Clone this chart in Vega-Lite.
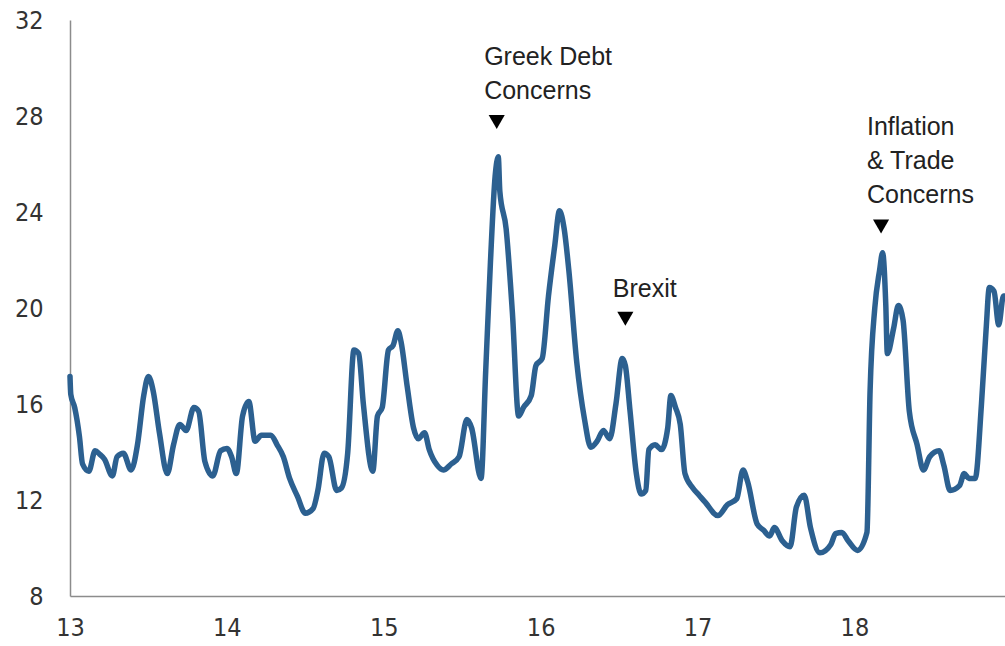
{
  "$schema": "https://vega.github.io/schema/vega-lite/v6.json",
  "width": 935,
  "height": 576,
  "autosize": "none",
  "padding": {"left": 70, "top": 20, "right": 0, "bottom": 50},
  "background": "white",
  "config": {"view": {"stroke": null}, "font": "Liberation Sans"},
  "datasets": {
    "series": [
      {"t": 13.00, "v": 17.15}, {"t": 13.005, "v": 16.4}, {"t": 13.03, "v": 15.85}, {"t": 13.06, "v": 14.65},
      {"t": 13.08, "v": 13.5}, {"t": 13.12, "v": 13.2}, {"t": 13.16, "v": 14.05}, {"t": 13.19, "v": 13.9},
      {"t": 13.22, "v": 13.7}, {"t": 13.27, "v": 13.0}, {"t": 13.30, "v": 13.8}, {"t": 13.34, "v": 13.95},
      {"t": 13.39, "v": 13.25}, {"t": 13.43, "v": 14.3}, {"t": 13.47, "v": 16.35}, {"t": 13.50, "v": 17.15},
      {"t": 13.53, "v": 16.55}, {"t": 13.57, "v": 14.8}, {"t": 13.62, "v": 13.1}, {"t": 13.66, "v": 14.3},
      {"t": 13.70, "v": 15.15}, {"t": 13.74, "v": 14.9}, {"t": 13.79, "v": 15.85}, {"t": 13.82, "v": 15.7},
      {"t": 13.86, "v": 13.6}, {"t": 13.91, "v": 13.0}, {"t": 13.96, "v": 14.05}, {"t": 14.00, "v": 14.15},
      {"t": 14.03, "v": 13.8}, {"t": 14.06, "v": 13.1}, {"t": 14.10, "v": 15.5}, {"t": 14.14, "v": 16.1},
      {"t": 14.18, "v": 14.45}, {"t": 14.22, "v": 14.7}, {"t": 14.28, "v": 14.7}, {"t": 14.32, "v": 14.3},
      {"t": 14.36, "v": 13.8}, {"t": 14.40, "v": 12.9}, {"t": 14.45, "v": 12.15}, {"t": 14.50, "v": 11.45},
      {"t": 14.55, "v": 11.65}, {"t": 14.58, "v": 12.4}, {"t": 14.62, "v": 13.95}, {"t": 14.65, "v": 13.8},
      {"t": 14.70, "v": 12.4}, {"t": 14.73, "v": 12.5}, {"t": 14.77, "v": 13.95}, {"t": 14.81, "v": 18.25},
      {"t": 14.84, "v": 18.1}, {"t": 14.87, "v": 16.0}, {"t": 14.93, "v": 13.2}, {"t": 14.96, "v": 15.5},
      {"t": 14.99, "v": 15.85}, {"t": 15.03, "v": 18.25}, {"t": 15.06, "v": 18.45}, {"t": 15.09, "v": 19.05},
      {"t": 15.11, "v": 18.6}, {"t": 15.15, "v": 16.7}, {"t": 15.19, "v": 15.0}, {"t": 15.22, "v": 14.55},
      {"t": 15.26, "v": 14.8}, {"t": 15.29, "v": 14.1}, {"t": 15.34, "v": 13.45}, {"t": 15.38, "v": 13.25},
      {"t": 15.43, "v": 13.5}, {"t": 15.48, "v": 13.8}, {"t": 15.53, "v": 15.35}, {"t": 15.56, "v": 15.0},
      {"t": 15.62, "v": 12.9}, {"t": 15.65, "v": 17.4}, {"t": 15.68, "v": 21.9}, {"t": 15.71, "v": 25.5},
      {"t": 15.73, "v": 26.3}, {"t": 15.74, "v": 24.85}, {"t": 15.78, "v": 23.3}, {"t": 15.82, "v": 19.8},
      {"t": 15.86, "v": 15.5}, {"t": 15.89, "v": 15.85}, {"t": 15.94, "v": 16.35}, {"t": 15.97, "v": 17.6},
      {"t": 16.01, "v": 17.9}, {"t": 16.05, "v": 20.5}, {"t": 16.09, "v": 22.6}, {"t": 16.12, "v": 24.05},
      {"t": 16.15, "v": 23.3}, {"t": 16.18, "v": 21.55}, {"t": 16.23, "v": 17.75}, {"t": 16.28, "v": 15.35},
      {"t": 16.32, "v": 14.2}, {"t": 16.36, "v": 14.45}, {"t": 16.40, "v": 14.9}, {"t": 16.44, "v": 14.55},
      {"t": 16.48, "v": 16.0}, {"t": 16.52, "v": 17.9}, {"t": 16.54, "v": 17.6}, {"t": 16.57, "v": 15.7},
      {"t": 16.61, "v": 13.1}, {"t": 16.64, "v": 12.25}, {"t": 16.67, "v": 12.4}, {"t": 16.69, "v": 14.1},
      {"t": 16.73, "v": 14.3}, {"t": 16.77, "v": 14.1}, {"t": 16.81, "v": 15.0}, {"t": 16.83, "v": 16.35},
      {"t": 16.86, "v": 15.85}, {"t": 16.89, "v": 15.15}, {"t": 16.92, "v": 13.1}, {"t": 16.97, "v": 12.5},
      {"t": 17.01, "v": 12.2}, {"t": 17.05, "v": 11.9}, {"t": 17.13, "v": 11.35}, {"t": 17.19, "v": 11.8},
      {"t": 17.25, "v": 12.05}, {"t": 17.29, "v": 13.25}, {"t": 17.32, "v": 12.75}, {"t": 17.38, "v": 11.0},
      {"t": 17.42, "v": 10.75}, {"t": 17.46, "v": 10.5}, {"t": 17.49, "v": 10.85}, {"t": 17.54, "v": 10.3},
      {"t": 17.59, "v": 10.05}, {"t": 17.63, "v": 11.7}, {"t": 17.68, "v": 12.2}, {"t": 17.72, "v": 10.85},
      {"t": 17.78, "v": 9.8}, {"t": 17.85, "v": 10.15}, {"t": 17.88, "v": 10.6}, {"t": 17.92, "v": 10.65},
      {"t": 17.96, "v": 10.3}, {"t": 18.02, "v": 9.9}, {"t": 18.08, "v": 10.65}, {"t": 18.10, "v": 16.55},
      {"t": 18.13, "v": 20.0}, {"t": 18.16, "v": 21.55}, {"t": 18.18, "v": 22.3}, {"t": 18.20, "v": 20.15},
      {"t": 18.21, "v": 18.1}, {"t": 18.25, "v": 19.15}, {"t": 18.28, "v": 20.1}, {"t": 18.31, "v": 19.5},
      {"t": 18.35, "v": 15.7}, {"t": 18.40, "v": 14.3}, {"t": 18.44, "v": 13.25}, {"t": 18.48, "v": 13.8},
      {"t": 18.54, "v": 14.05}, {"t": 18.57, "v": 13.45}, {"t": 18.61, "v": 12.4}, {"t": 18.67, "v": 12.6},
      {"t": 18.70, "v": 13.1}, {"t": 18.73, "v": 12.9}, {"t": 18.77, "v": 12.9}, {"t": 18.81, "v": 16.0},
      {"t": 18.84, "v": 19.15}, {"t": 18.86, "v": 20.85}, {"t": 18.89, "v": 20.7}, {"t": 18.92, "v": 19.3},
      {"t": 18.95, "v": 20.5}, {"t": 18.97, "v": 20.5}
    ],
    "notes": [
      {"tx": 15.64, "ty": 30.97, "px": 15.72, "py": 27.75, "label": "Greek Debt\nConcerns"},
      {"tx": 16.46, "ty": 21.31, "px": 16.54, "py": 19.55, "label": "Brexit"},
      {"tx": 18.08, "ty": 28.06, "px": 18.17, "py": 23.4, "label": "Inflation\n& Trade\nConcerns"}
    ]
  },
  "layer": [
    {
      "data": {"name": "series"},
      "mark": {"type": "line", "color": "#2c6090", "strokeWidth": 5.5, "strokeJoin": "round", "strokeCap": "round", "interpolate": "monotone"},
      "encoding": {
        "x": {
          "field": "t", "type": "quantitative",
          "scale": {"domain": [13, 18.96], "nice": false, "zero": false},
          "axis": {
            "title": null, "values": [13, 14, 15, 16, 17, 18], "format": "d",
            "ticks": false, "grid": false, "domainColor": "#8c8c8c", "domainWidth": 1.5,
            "labelFont": "'Liberation Sans Narrow', 'DejaVu Sans Condensed', 'Liberation Sans', sans-serif",
            "labelFontSize": 25, "labelColor": "#333333",
            "labelPadding": 19, "labelFlush": false
          }
        },
        "y": {
          "field": "v", "type": "quantitative",
          "scale": {"domain": [8, 32], "nice": false, "zero": false},
          "axis": {
            "title": null, "values": [8, 12, 16, 20, 24, 28, 32],
            "ticks": false, "grid": false, "domainColor": "#8c8c8c", "domainWidth": 1.5,
            "labelFont": "'Liberation Sans Narrow', 'DejaVu Sans Condensed', 'Liberation Sans', sans-serif",
            "labelFontSize": 25, "labelColor": "#333333",
            "labelPadding": 27, "labelFlush": false
          }
        }
      }
    },
    {
      "data": {"name": "notes"},
      "mark": {"type": "text", "align": "left", "baseline": "top", "lineBreak": "\n", "lineHeight": 34, "fontSize": 25, "color": "#222222", "font": "Liberation Sans"},
      "encoding": {
        "x": {"field": "tx", "type": "quantitative"},
        "y": {"field": "ty", "type": "quantitative"},
        "text": {"field": "label"}
      }
    },
    {
      "data": {"name": "notes"},
      "mark": {"type": "point", "shape": "triangle-down", "filled": true, "color": "#000000", "size": 260, "opacity": 1},
      "encoding": {
        "x": {"field": "px", "type": "quantitative"},
        "y": {"field": "py", "type": "quantitative"}
      }
    }
  ]
}
